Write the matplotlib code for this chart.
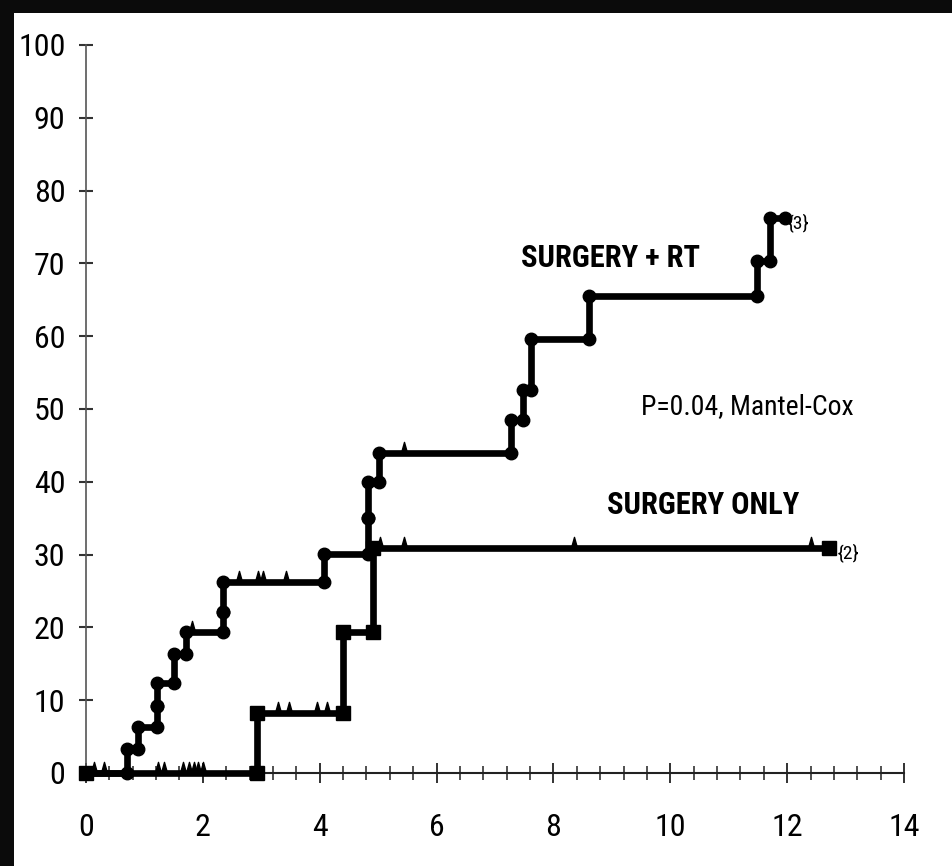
import numpy as np
import matplotlib
matplotlib.use('Agg')
import matplotlib.pyplot as plt
from matplotlib.patches import Rectangle

# surgery + RT: event times (years) and cumulative % after each event
rt_times = [0.71, 0.89, 1.22, 1.22, 1.50, 1.72, 2.35, 2.35, 4.08, 4.82, 4.82,
            5.01, 7.27, 7.48, 7.62, 8.61, 11.48, 11.70]
rt_values = [3.3, 6.3, 9.2, 12.4, 16.3, 19.3, 22.1, 26.3, 30.1, 35.0, 40.0,
             44.0, 48.5, 52.6, 59.6, 65.5, 70.3, 76.3]
rt_end = 11.97
rt_censored = [0.13, 0.30, 1.82, 2.62, 2.95, 3.03, 3.42, 5.45]

# surgery only
so_times = [2.92, 4.40, 4.91]
so_values = [8.2, 19.3, 30.9]
so_end = 12.71
so_censored = [1.24, 1.33, 1.66, 1.76, 1.84, 1.92, 2.00, 3.28, 3.48, 3.95,
               4.12, 5.03, 5.45, 8.35, 12.41]

xticks = [0, 2, 4, 6, 8, 10, 12, 14]
yticks = [0, 10, 20, 30, 40, 50, 60, 70, 80, 90, 100]

plt.rcParams['font.family'] = ['Roboto Condensed', 'DejaVu Sans']
plt.rcParams['font.stretch'] = 'condensed'

fig = plt.figure(figsize=(9.52, 8.66), dpi=100, facecolor='#0b0b0b')
fig.patches.append(Rectangle((14 / 952, 0), 1, 1 - 13 / 866, transform=fig.transFigure,
                             facecolor='white', edgecolor='none', zorder=-10))

ax = fig.add_axes([86 / 952, 1 - 773 / 866, (904 - 86) / 952, (773 - 45) / 866])
ax.set_facecolor('none')


def km_curve(times, values, end):
    t = np.asarray(times)
    v = np.asarray(values)
    x = np.r_[0, t, end]
    y = np.r_[0, v, v[-1]]
    prev = np.r_[0, v[:-1]]
    cx = np.r_[0, t, t, end]
    cy = np.r_[0, prev, v, v[-1]]
    return x, y, cx, cy


def level_at(times, values, pts):
    idx = np.searchsorted(np.asarray(times), np.asarray(pts), side='right')
    return np.r_[0, values][idx]


spike = [(-0.28, 0), (0, 1), (0.28, 0), (0, -0.1)]

# surgery only (squares)
x, y, cx, cy = km_curve(so_times, so_values, so_end)
ax.step(x, y, where='post', color='black', lw=4.8, clip_on=False, zorder=3)
ax.plot(cx, cy, 's', color='black', ms=10, clip_on=False, zorder=4)
ax.plot(so_censored, level_at(so_times, so_values, so_censored), ls='none',
        marker=spike, ms=16, color='black', clip_on=False, zorder=3)

# surgery + RT (dots)
x, y, cx, cy = km_curve(rt_times, rt_values, rt_end)
ax.step(x, y, where='post', color='black', lw=4.8, clip_on=False, zorder=3)
ax.plot(cx, cy, 'o', color='black', ms=9, clip_on=False, zorder=4)
ax.plot(rt_censored, level_at(rt_times, rt_values, rt_censored), ls='none',
        marker=spike, ms=16, color='black', clip_on=False, zorder=3)

ax.text(7.44, 70.7, 'SURGERY + RT', fontsize=22, fontweight='bold', va='center', ha='left')
ax.text(9.50, 50.3, 'P=0.04, Mantel-Cox', fontsize=20, va='center', ha='left')
ax.text(8.92, 36.8, 'SURGERY ONLY', fontsize=22, fontweight='bold', va='center', ha='left')
ax.text(12.00, 75.6, '{3}', fontsize=14, va='center', ha='left')
ax.text(12.86, 30.3, '{2}', fontsize=14, va='center', ha='left')

ax.set_xlim(0, 14)
ax.set_ylim(0, 100)
ax.set_xticks(xticks)
ax.set_xticks(np.arange(0, 14.01, 0.4), minor=True)
ax.set_yticks(yticks)
ax.spines['top'].set_visible(False)
ax.spines['right'].set_visible(False)
ax.spines['left'].set_color('#555555')
ax.spines['left'].set_linewidth(1.2)
ax.spines['bottom'].set_color('#222222')
ax.spines['bottom'].set_linewidth(1.5)
ax.tick_params(axis='x', which='major', direction='inout', length=15, width=1.3,
               pad=21, labelsize=23, color='#222222')
ax.tick_params(axis='x', which='minor', direction='inout', length=10, width=1.1,
               color='#222222')
ax.tick_params(axis='y', direction='inout', length=9.5, width=1.5, pad=10,
               labelsize=23, color='#333333')

fig.savefig('out.png', dpi=100, facecolor=fig.get_facecolor())
